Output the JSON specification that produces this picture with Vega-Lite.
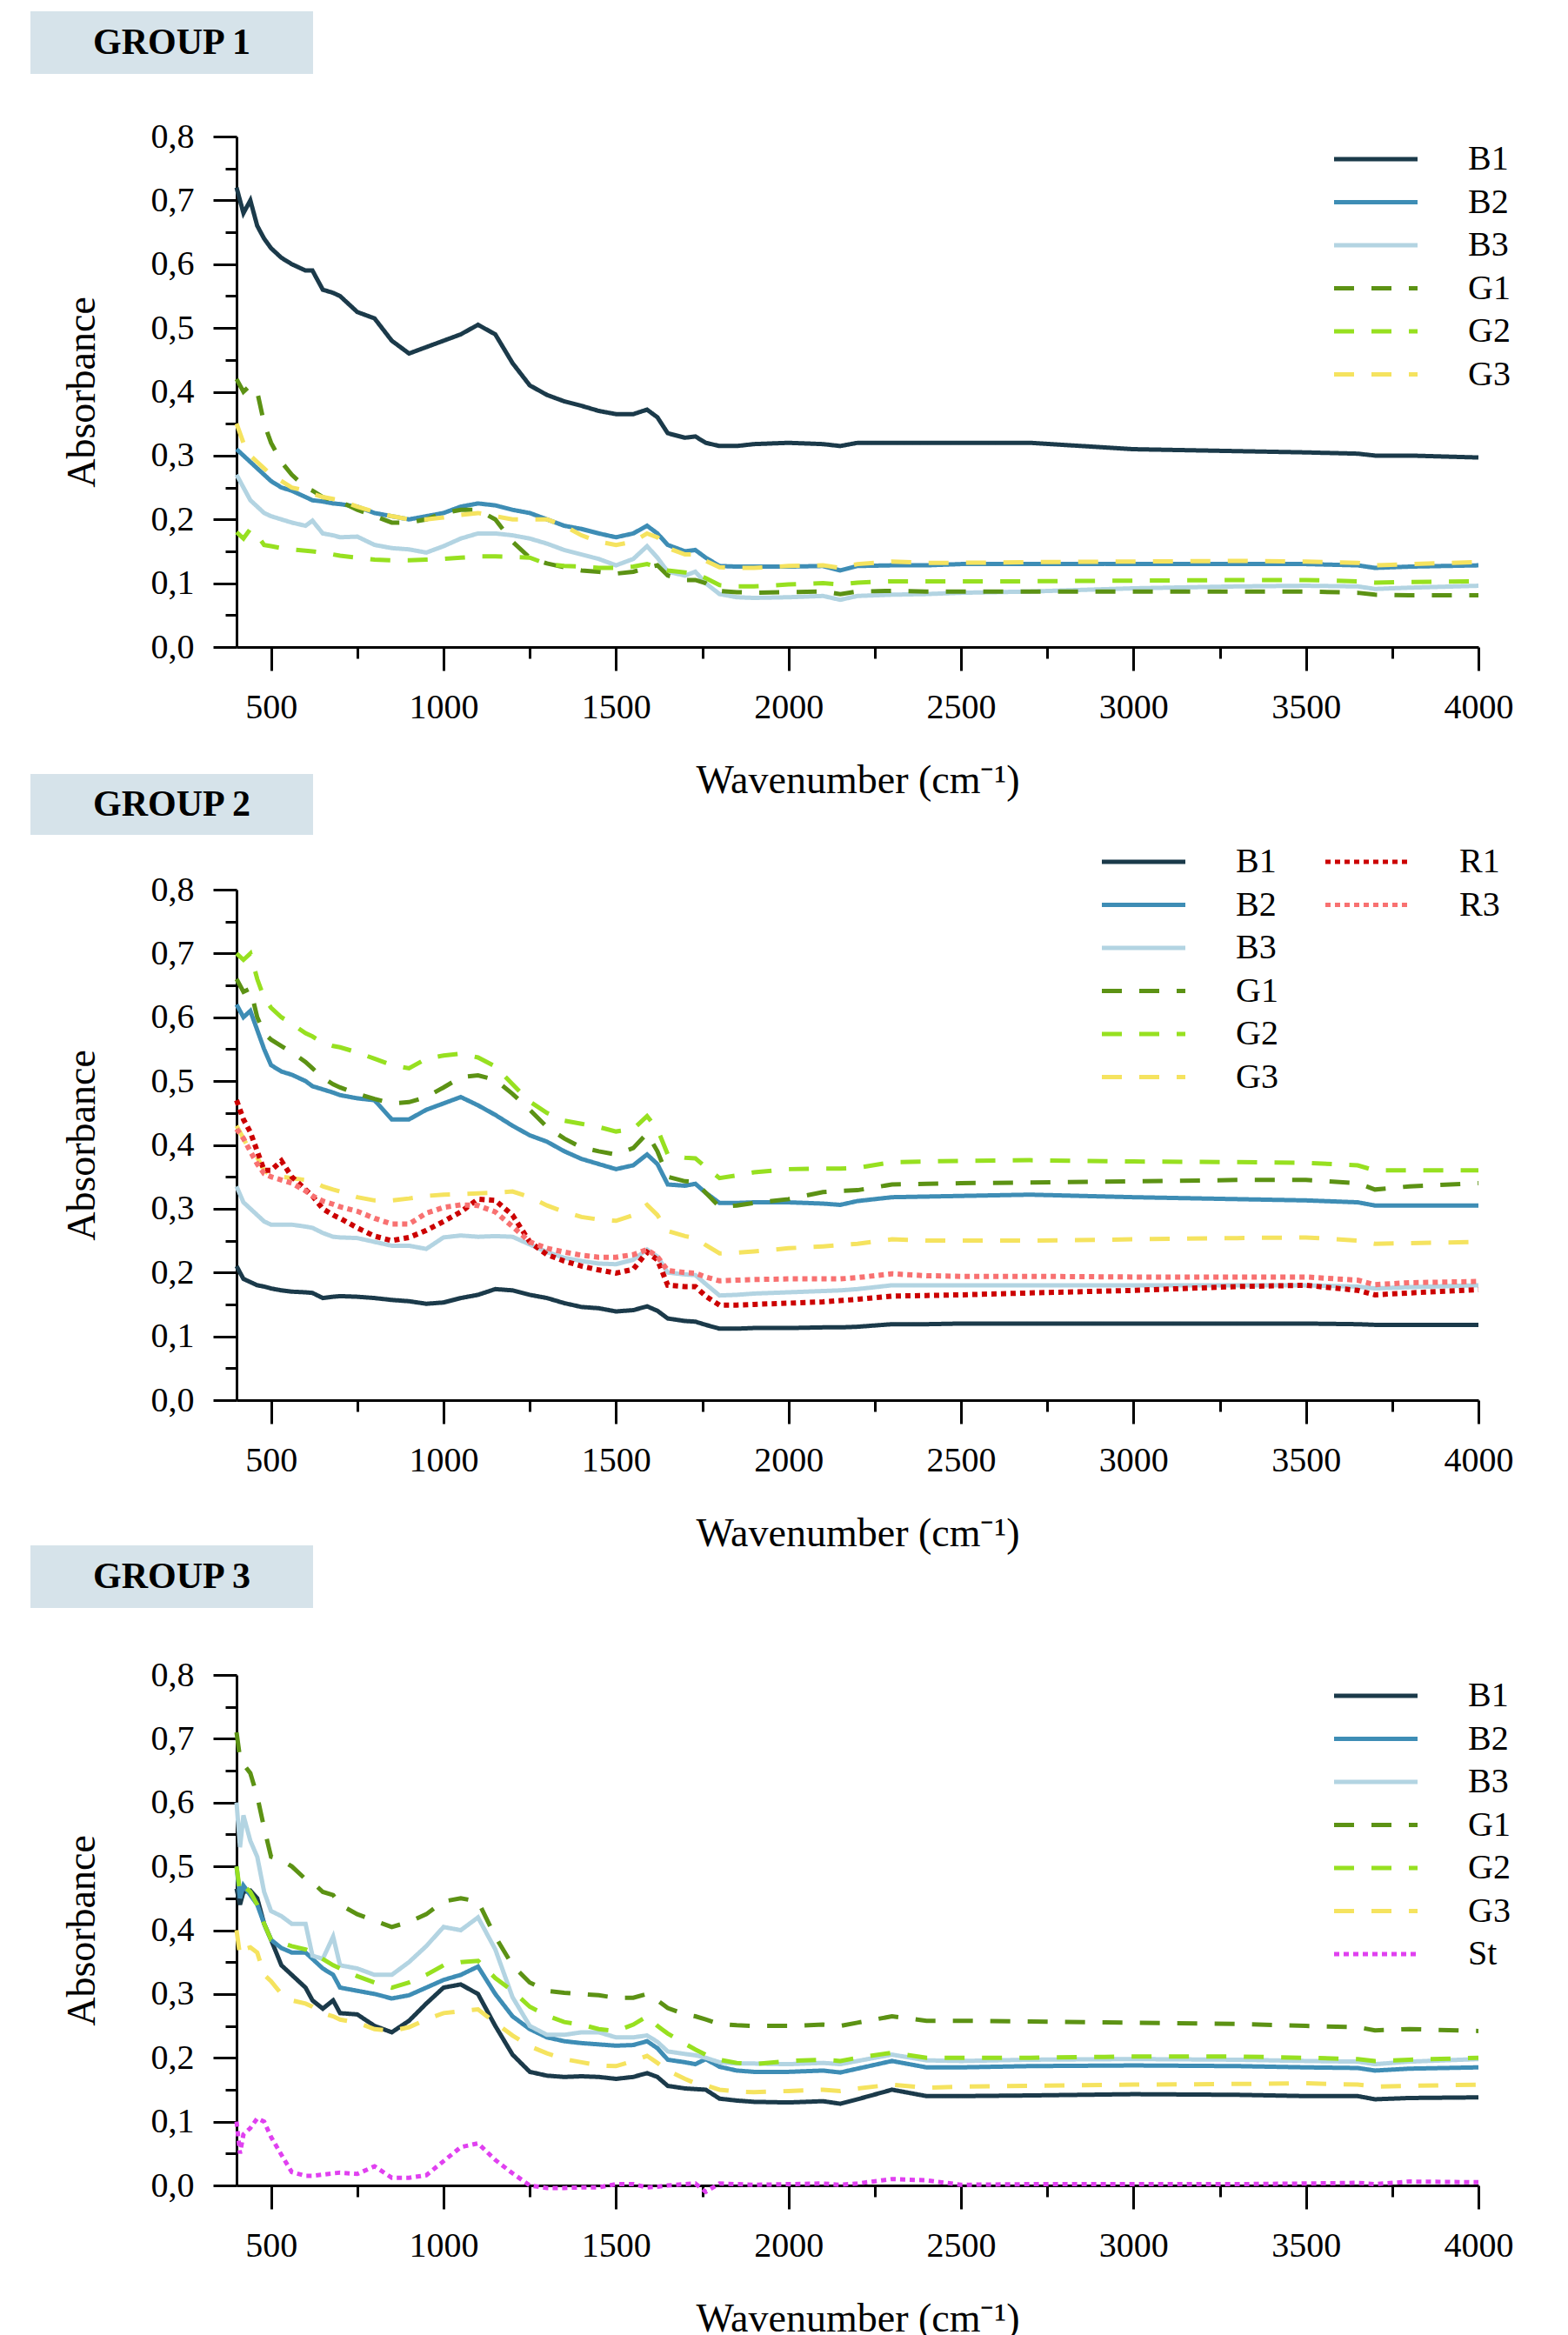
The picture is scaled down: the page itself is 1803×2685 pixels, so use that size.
{
"$schema": "https://vega.github.io/schema/vega-lite/v6.json",
"background": "white",
"padding": {"left": 35, "top": 13, "right": 0, "bottom": 0},
"config": {
  "font": "Liberation Serif",
  "view": {"stroke": null},
  "axis": {"domainColor": "black", "domainWidth": 3, "tickColor": "black", "tickWidth": 3, "labelFont": "Liberation Serif", "labelFontSize": 40, "labelColor": "black", "titleFont": "Liberation Serif", "titleFontSize": 46, "titleFontWeight": "normal", "titleColor": "black", "grid": false, "labelPadding": 22, "labelFlush": false, "labelOverlap": false},
  "legend": {"title": null, "orient": "none", "labelFontSize": 40, "labelFont": "Liberation Serif", "labelColor": "black", "symbolType": "M-4,0H4", "symbolSize": 576, "symbolStrokeWidth": 5, "labelOffset": 86, "rowPadding": 9.5, "padding": 0, "labelLimit": 0}
},
"resolve": {"scale": {"color": "independent", "strokeDash": "independent", "strokeWidth": "independent"}},
"columns": 1,
"align": "none",
"spacing": -9,
"concat": [
{
 "columns": 1,
 "align": "none",
 "spacing": -30,
 "resolve": {"scale": {"color": "independent", "strokeDash": "independent", "strokeWidth": "independent"}},
 "concat": [
 {
  "columns": 1,
  "align": "none",
  "spacing": 52,
  "resolve": {"scale": {"color": "independent", "strokeDash": "independent", "strokeWidth": "independent"}},
  "concat": [
   {"width": 325, "height": 72, "view": {"fill": "#d6e3ea", "stroke": null},
    "data": {"values": [{"label": "GROUP 1"}]},
    "mark": {"type": "text", "fontSize": 42, "fontWeight": "bold", "color": "black", "font": "Liberation Serif"},
    "encoding": {"text": {"field": "label"}}},
   {"width": 1665, "height": 587,
    "data": {"values": [
{"x":400,"B1":0.72,"B2":0.31,"B3":0.27,"G1":0.42,"G2":0.18,"G3":0.35},
{"x":420,"B1":0.68,"B2":0.30,"B3":0.25,"G1":0.40,"G2":0.17,"G3":0.32},
{"x":440,"B1":0.70,"B2":0.29,"B3":0.23,"G1":0.41,"G2":0.185,"G3":0.30},
{"x":460,"B1":0.66,"B2":0.28,"B3":0.22,"G1":0.40,"G2":0.175,"G3":0.29},
{"x":480,"B1":0.64,"B2":0.27,"B3":0.21,"G1":0.35,"G2":0.16,"G3":0.28},
{"x":500,"B1":0.625,"B2":0.26,"B3":0.205,"G1":0.32,"G2":0.158,"G3":0.27},
{"x":530,"B1":0.61,"B2":0.25,"B3":0.20,"G1":0.29,"G2":0.155,"G3":0.26},
{"x":560,"B1":0.60,"B2":0.245,"B3":0.195,"G1":0.27,"G2":0.153,"G3":0.25},
{"x":600,"B1":0.59,"B2":0.235,"B3":0.19,"G1":0.25,"G2":0.151,"G3":0.245},
{"x":620,"B1":0.59,"B2":0.23,"B3":0.198,"G1":0.245,"G2":0.15,"G3":0.24},
{"x":650,"B1":0.56,"B2":0.228,"B3":0.178,"G1":0.235,"G2":0.148,"G3":0.235},
{"x":680,"B1":0.555,"B2":0.225,"B3":0.175,"G1":0.23,"G2":0.145,"G3":0.232},
{"x":700,"B1":0.55,"B2":0.224,"B3":0.172,"G1":0.228,"G2":0.143,"G3":0.23},
{"x":750,"B1":0.525,"B2":0.22,"B3":0.173,"G1":0.215,"G2":0.14,"G3":0.22},
{"x":800,"B1":0.515,"B2":0.21,"B3":0.16,"G1":0.205,"G2":0.137,"G3":0.212},
{"x":850,"B1":0.48,"B2":0.205,"B3":0.155,"G1":0.195,"G2":0.136,"G3":0.205},
{"x":900,"B1":0.46,"B2":0.2,"B3":0.153,"G1":0.195,"G2":0.136,"G3":0.2},
{"x":950,"B1":0.47,"B2":0.205,"B3":0.148,"G1":0.2,"G2":0.137,"G3":0.2},
{"x":1000,"B1":0.48,"B2":0.21,"B3":0.158,"G1":0.21,"G2":0.138,"G3":0.203},
{"x":1050,"B1":0.49,"B2":0.22,"B3":0.17,"G1":0.215,"G2":0.14,"G3":0.207},
{"x":1100,"B1":0.505,"B2":0.225,"B3":0.178,"G1":0.215,"G2":0.142,"G3":0.21},
{"x":1150,"B1":0.49,"B2":0.222,"B3":0.178,"G1":0.2,"G2":0.142,"G3":0.205},
{"x":1200,"B1":0.445,"B2":0.215,"B3":0.175,"G1":0.165,"G2":0.141,"G3":0.2},
{"x":1250,"B1":0.41,"B2":0.21,"B3":0.17,"G1":0.14,"G2":0.14,"G3":0.2},
{"x":1300,"B1":0.395,"B2":0.2,"B3":0.162,"G1":0.131,"G2":0.13,"G3":0.2},
{"x":1350,"B1":0.385,"B2":0.19,"B3":0.152,"G1":0.125,"G2":0.127,"G3":0.19},
{"x":1400,"B1":0.378,"B2":0.185,"B3":0.145,"G1":0.12,"G2":0.126,"G3":0.175},
{"x":1450,"B1":0.37,"B2":0.178,"B3":0.138,"G1":0.118,"G2":0.124,"G3":0.165},
{"x":1500,"B1":0.365,"B2":0.172,"B3":0.128,"G1":0.115,"G2":0.124,"G3":0.16},
{"x":1550,"B1":0.365,"B2":0.178,"B3":0.138,"G1":0.118,"G2":0.126,"G3":0.165},
{"x":1590,"B1":0.372,"B2":0.19,"B3":0.158,"G1":0.124,"G2":0.13,"G3":0.178},
{"x":1620,"B1":0.36,"B2":0.178,"B3":0.14,"G1":0.128,"G2":0.125,"G3":0.172},
{"x":1650,"B1":0.335,"B2":0.16,"B3":0.118,"G1":0.112,"G2":0.12,"G3":0.155},
{"x":1700,"B1":0.328,"B2":0.15,"B3":0.112,"G1":0.105,"G2":0.117,"G3":0.145},
{"x":1730,"B1":0.33,"B2":0.152,"B3":0.118,"G1":0.105,"G2":0.115,"G3":0.145},
{"x":1760,"B1":0.32,"B2":0.14,"B3":0.1,"G1":0.1,"G2":0.108,"G3":0.135},
{"x":1800,"B1":0.315,"B2":0.127,"B3":0.083,"G1":0.088,"G2":0.097,"G3":0.125},
{"x":1850,"B1":0.315,"B2":0.126,"B3":0.078,"G1":0.086,"G2":0.095,"G3":0.124},
{"x":1900,"B1":0.318,"B2":0.126,"B3":0.077,"G1":0.085,"G2":0.095,"G3":0.124},
{"x":2000,"B1":0.32,"B2":0.126,"B3":0.078,"G1":0.086,"G2":0.098,"G3":0.127},
{"x":2100,"B1":0.318,"B2":0.127,"B3":0.08,"G1":0.087,"G2":0.1,"G3":0.128},
{"x":2150,"B1":0.315,"B2":0.12,"B3":0.074,"G1":0.083,"G2":0.098,"G3":0.124},
{"x":2200,"B1":0.32,"B2":0.127,"B3":0.08,"G1":0.087,"G2":0.101,"G3":0.13},
{"x":2300,"B1":0.32,"B2":0.128,"B3":0.082,"G1":0.088,"G2":0.103,"G3":0.134},
{"x":2400,"B1":0.32,"B2":0.128,"B3":0.083,"G1":0.087,"G2":0.103,"G3":0.132},
{"x":2500,"B1":0.32,"B2":0.13,"B3":0.085,"G1":0.087,"G2":0.103,"G3":0.132},
{"x":2700,"B1":0.32,"B2":0.13,"B3":0.087,"G1":0.087,"G2":0.103,"G3":0.133},
{"x":3000,"B1":0.31,"B2":0.13,"B3":0.092,"G1":0.087,"G2":0.104,"G3":0.134},
{"x":3300,"B1":0.307,"B2":0.13,"B3":0.095,"G1":0.087,"G2":0.105,"G3":0.135},
{"x":3500,"B1":0.305,"B2":0.13,"B3":0.096,"G1":0.087,"G2":0.105,"G3":0.134},
{"x":3650,"B1":0.303,"B2":0.128,"B3":0.095,"G1":0.085,"G2":0.103,"G3":0.132},
{"x":3700,"B1":0.3,"B2":0.124,"B3":0.091,"G1":0.082,"G2":0.101,"G3":0.128},
{"x":3800,"B1":0.3,"B2":0.126,"B3":0.093,"G1":0.081,"G2":0.102,"G3":0.13},
{"x":4000,"B1":0.297,"B2":0.128,"B3":0.096,"G1":0.081,"G2":0.103,"G3":0.133}
    ]},
    "transform": [{"fold": ["B1","B2","B3","G1","G2","G3"], "as": ["s","v"]}],
    "mark": {"type": "line"},
    "encoding": {
     "x": {"field": "x", "type": "quantitative", "scale": {"domain": [400, 4000], "range": [237, 1665], "nice": false, "zero": false},
       "axis": {"values": [500,750,1000,1250,1500,1750,2000,2250,2500,2750,3000,3250,3500,3750,4000], "format": "d", "labelExpr": "datum.value % 500 == 0 ? datum.label : ''", "tickSize": {"condition": {"test": "datum.value % 500 == 0", "value": 27}, "value": 13}, "title": "Wavenumber (cm⁻¹)", "titlePadding": 42}},
     "y": {"field": "v", "type": "quantitative", "scale": {"domain": [0, 0.8], "nice": false},
       "axis": {"offset": -237, "values": [0,0.05,0.1,0.15,0.2,0.25,0.3,0.35,0.4,0.45,0.5,0.55,0.6,0.65,0.7,0.75,0.8], "labelExpr": "abs(datum.value*10 - round(datum.value*10)) < 0.001 ? replace(format(datum.value, '.1f'), '.', ',') : ''", "tickSize": {"condition": {"test": "abs(datum.value*10 - round(datum.value*10)) < 0.001", "value": 27}, "value": 13}, "title": "Absorbance", "titlePadding": 55}},
     "color": {"field": "s", "type": "nominal", "scale": {"domain": ["B1","B2","B3","G1","G2","G3"], "range": ["#1b3a4a","#3e8db5","#b3d4e2","#5c9214","#97e020","#f5e35f"]}, "legend": {"legendX": 1527, "legendY": 6}},
     "strokeDash": {"field": "s", "type": "nominal", "scale": {"domain": ["B1","B2","B3","G1","G2","G3"], "range": [[1,0],[1,0],[1,0],[23,20],[23,20],[23,20]]}, "legend": {"legendX": 1527, "legendY": 6}},
     "strokeWidth": {"field": "s", "type": "ordinal", "scale": {"domain": ["B1","B2","B3","G1","G2","G3"], "range": [5,5,5,6.5,6.5,6.5]}, "legend": null}
    }
   }
  ]
 },
 {
  "columns": 1,
  "align": "none",
  "spacing": 11,
  "resolve": {"scale": {"color": "independent", "strokeDash": "independent", "strokeWidth": "independent"}},
  "concat": [
   {"width": 325, "height": 70, "view": {"fill": "#d6e3ea", "stroke": null},
    "data": {"values": [{"label": "GROUP 2"}]},
    "mark": {"type": "text", "fontSize": 42, "fontWeight": "bold", "color": "black", "font": "Liberation Serif"},
    "encoding": {"text": {"field": "label"}}},
   {"width": 1665, "height": 587,
    "data": {"values": [
{"x":400,"B1":0.21,"B2":0.62,"B3":0.335,"G1":0.66,"G2":0.70,"G3":0.43,"R1":0.47,"R3":0.425},
{"x":420,"B1":0.19,"B2":0.60,"B3":0.31,"G1":0.64,"G2":0.69,"G3":0.41,"R1":0.44,"R3":0.41},
{"x":440,"B1":0.185,"B2":0.61,"B3":0.30,"G1":0.645,"G2":0.70,"G3":0.39,"R1":0.42,"R3":0.39},
{"x":460,"B1":0.18,"B2":0.58,"B3":0.29,"G1":0.60,"G2":0.66,"G3":0.38,"R1":0.39,"R3":0.37},
{"x":480,"B1":0.178,"B2":0.55,"B3":0.28,"G1":0.575,"G2":0.63,"G3":0.36,"R1":0.36,"R3":0.355},
{"x":500,"B1":0.175,"B2":0.525,"B3":0.275,"G1":0.565,"G2":0.615,"G3":0.352,"R1":0.36,"R3":0.35},
{"x":530,"B1":0.172,"B2":0.515,"B3":0.275,"G1":0.555,"G2":0.60,"G3":0.35,"R1":0.375,"R3":0.345},
{"x":560,"B1":0.17,"B2":0.51,"B3":0.275,"G1":0.545,"G2":0.59,"G3":0.348,"R1":0.35,"R3":0.34},
{"x":600,"B1":0.169,"B2":0.50,"B3":0.272,"G1":0.53,"G2":0.575,"G3":0.345,"R1":0.33,"R3":0.328},
{"x":620,"B1":0.168,"B2":0.492,"B3":0.27,"G1":0.52,"G2":0.57,"G3":0.343,"R1":0.32,"R3":0.32},
{"x":650,"B1":0.16,"B2":0.487,"B3":0.262,"G1":0.505,"G2":0.56,"G3":0.335,"R1":0.30,"R3":0.312},
{"x":680,"B1":0.162,"B2":0.482,"B3":0.256,"G1":0.495,"G2":0.555,"G3":0.33,"R1":0.29,"R3":0.307},
{"x":700,"B1":0.163,"B2":0.478,"B3":0.255,"G1":0.49,"G2":0.553,"G3":0.327,"R1":0.285,"R3":0.303},
{"x":750,"B1":0.162,"B2":0.473,"B3":0.254,"G1":0.48,"G2":0.545,"G3":0.318,"R1":0.27,"R3":0.296},
{"x":800,"B1":0.16,"B2":0.47,"B3":0.248,"G1":0.472,"G2":0.535,"G3":0.313,"R1":0.257,"R3":0.285},
{"x":850,"B1":0.157,"B2":0.44,"B3":0.242,"G1":0.465,"G2":0.525,"G3":0.313,"R1":0.25,"R3":0.276},
{"x":900,"B1":0.155,"B2":0.44,"B3":0.242,"G1":0.467,"G2":0.52,"G3":0.316,"R1":0.255,"R3":0.276},
{"x":950,"B1":0.151,"B2":0.455,"B3":0.237,"G1":0.475,"G2":0.535,"G3":0.32,"R1":0.266,"R3":0.293},
{"x":1000,"B1":0.153,"B2":0.465,"B3":0.255,"G1":0.49,"G2":0.54,"G3":0.322,"R1":0.28,"R3":0.302},
{"x":1050,"B1":0.16,"B2":0.475,"B3":0.258,"G1":0.506,"G2":0.543,"G3":0.323,"R1":0.295,"R3":0.306},
{"x":1100,"B1":0.165,"B2":0.462,"B3":0.256,"G1":0.509,"G2":0.537,"G3":0.324,"R1":0.315,"R3":0.305},
{"x":1150,"B1":0.174,"B2":0.447,"B3":0.257,"G1":0.502,"G2":0.523,"G3":0.325,"R1":0.313,"R3":0.295},
{"x":1200,"B1":0.172,"B2":0.43,"B3":0.256,"G1":0.48,"G2":0.495,"G3":0.327,"R1":0.29,"R3":0.272},
{"x":1250,"B1":0.165,"B2":0.415,"B3":0.244,"G1":0.455,"G2":0.468,"G3":0.318,"R1":0.248,"R3":0.248},
{"x":1300,"B1":0.16,"B2":0.405,"B3":0.232,"G1":0.428,"G2":0.45,"G3":0.305,"R1":0.228,"R3":0.238},
{"x":1350,"B1":0.152,"B2":0.39,"B3":0.223,"G1":0.41,"G2":0.438,"G3":0.295,"R1":0.218,"R3":0.232},
{"x":1400,"B1":0.146,"B2":0.378,"B3":0.218,"G1":0.396,"G2":0.433,"G3":0.287,"R1":0.21,"R3":0.227},
{"x":1450,"B1":0.144,"B2":0.37,"B3":0.214,"G1":0.39,"G2":0.428,"G3":0.283,"R1":0.204,"R3":0.224},
{"x":1500,"B1":0.139,"B2":0.362,"B3":0.213,"G1":0.385,"G2":0.421,"G3":0.281,"R1":0.199,"R3":0.224},
{"x":1550,"B1":0.141,"B2":0.368,"B3":0.22,"G1":0.395,"G2":0.425,"G3":0.29,"R1":0.205,"R3":0.228},
{"x":1590,"B1":0.147,"B2":0.385,"B3":0.236,"G1":0.418,"G2":0.445,"G3":0.306,"R1":0.232,"R3":0.236},
{"x":1620,"B1":0.14,"B2":0.37,"B3":0.225,"G1":0.39,"G2":0.425,"G3":0.29,"R1":0.22,"R3":0.225},
{"x":1650,"B1":0.128,"B2":0.338,"B3":0.2,"G1":0.35,"G2":0.385,"G3":0.265,"R1":0.18,"R3":0.203},
{"x":1700,"B1":0.124,"B2":0.336,"B3":0.197,"G1":0.343,"G2":0.38,"G3":0.257,"R1":0.178,"R3":0.2},
{"x":1730,"B1":0.123,"B2":0.339,"B3":0.196,"G1":0.342,"G2":0.379,"G3":0.254,"R1":0.178,"R3":0.199},
{"x":1760,"B1":0.118,"B2":0.325,"B3":0.182,"G1":0.325,"G2":0.365,"G3":0.243,"R1":0.163,"R3":0.193},
{"x":1800,"B1":0.112,"B2":0.309,"B3":0.164,"G1":0.303,"G2":0.348,"G3":0.23,"R1":0.149,"R3":0.187},
{"x":1850,"B1":0.112,"B2":0.309,"B3":0.165,"G1":0.305,"G2":0.352,"G3":0.231,"R1":0.149,"R3":0.188},
{"x":1900,"B1":0.113,"B2":0.31,"B3":0.167,"G1":0.309,"G2":0.357,"G3":0.233,"R1":0.15,"R3":0.189},
{"x":2000,"B1":0.113,"B2":0.31,"B3":0.169,"G1":0.315,"G2":0.362,"G3":0.238,"R1":0.152,"R3":0.19},
{"x":2100,"B1":0.114,"B2":0.308,"B3":0.171,"G1":0.326,"G2":0.363,"G3":0.241,"R1":0.154,"R3":0.19},
{"x":2150,"B1":0.114,"B2":0.306,"B3":0.172,"G1":0.328,"G2":0.363,"G3":0.243,"R1":0.156,"R3":0.19},
{"x":2200,"B1":0.115,"B2":0.312,"B3":0.174,"G1":0.329,"G2":0.364,"G3":0.245,"R1":0.158,"R3":0.192},
{"x":2300,"B1":0.119,"B2":0.318,"B3":0.18,"G1":0.338,"G2":0.373,"G3":0.252,"R1":0.163,"R3":0.198},
{"x":2400,"B1":0.119,"B2":0.319,"B3":0.18,"G1":0.339,"G2":0.374,"G3":0.25,"R1":0.164,"R3":0.195},
{"x":2500,"B1":0.12,"B2":0.32,"B3":0.18,"G1":0.34,"G2":0.375,"G3":0.25,"R1":0.165,"R3":0.194},
{"x":2700,"B1":0.12,"B2":0.322,"B3":0.18,"G1":0.341,"G2":0.376,"G3":0.25,"R1":0.168,"R3":0.194},
{"x":3000,"B1":0.12,"B2":0.318,"B3":0.18,"G1":0.343,"G2":0.374,"G3":0.252,"R1":0.172,"R3":0.193},
{"x":3300,"B1":0.12,"B2":0.315,"B3":0.18,"G1":0.345,"G2":0.373,"G3":0.254,"R1":0.178,"R3":0.193},
{"x":3500,"B1":0.12,"B2":0.313,"B3":0.18,"G1":0.345,"G2":0.372,"G3":0.255,"R1":0.18,"R3":0.193},
{"x":3650,"B1":0.119,"B2":0.31,"B3":0.178,"G1":0.34,"G2":0.368,"G3":0.25,"R1":0.172,"R3":0.188},
{"x":3700,"B1":0.118,"B2":0.305,"B3":0.175,"G1":0.33,"G2":0.36,"G3":0.245,"R1":0.165,"R3":0.181},
{"x":3800,"B1":0.118,"B2":0.305,"B3":0.177,"G1":0.335,"G2":0.36,"G3":0.246,"R1":0.168,"R3":0.184},
{"x":4000,"B1":0.118,"B2":0.305,"B3":0.18,"G1":0.34,"G2":0.36,"G3":0.248,"R1":0.173,"R3":0.186}
    ]},
    "encoding": {
     "x": {"field": "x", "type": "quantitative", "scale": {"domain": [400, 4000], "range": [237, 1665], "nice": false, "zero": false},
       "axis": {"values": [500,750,1000,1250,1500,1750,2000,2250,2500,2750,3000,3250,3500,3750,4000], "format": "d", "labelExpr": "datum.value % 500 == 0 ? datum.label : ''", "tickSize": {"condition": {"test": "datum.value % 500 == 0", "value": 27}, "value": 13}, "title": "Wavenumber (cm⁻¹)", "titlePadding": 42}},
     "y": {"field": "v", "type": "quantitative", "scale": {"domain": [0, 0.8], "nice": false},
       "axis": {"offset": -237, "values": [0,0.05,0.1,0.15,0.2,0.25,0.3,0.35,0.4,0.45,0.5,0.55,0.6,0.65,0.7,0.75,0.8], "labelExpr": "abs(datum.value*10 - round(datum.value*10)) < 0.001 ? replace(format(datum.value, '.1f'), '.', ',') : ''", "tickSize": {"condition": {"test": "abs(datum.value*10 - round(datum.value*10)) < 0.001", "value": 27}, "value": 13}, "title": "Absorbance", "titlePadding": 55}}
    },
    "resolve": {"scale": {"color": "independent", "strokeDash": "independent", "strokeWidth": "independent"}},
    "layer": [
     {"transform": [{"fold": ["B1","B2","B3","G1","G2","G3"], "as": ["s","v"]}],
      "mark": {"type": "line"},
      "encoding": {
       "color": {"field": "s", "type": "nominal", "scale": {"domain": ["B1","B2","B3","G1","G2","G3"], "range": ["#1b3a4a","#3e8db5","#b3d4e2","#5c9214","#97e020","#f5e35f"]}, "legend": {"legendX": 1260, "legendY": -52}},
       "strokeDash": {"field": "s", "type": "nominal", "scale": {"domain": ["B1","B2","B3","G1","G2","G3"], "range": [[1,0],[1,0],[1,0],[23,20],[23,20],[23,20]]}, "legend": {"legendX": 1260, "legendY": -52}},
       "strokeWidth": {"field": "s", "type": "ordinal", "scale": {"domain": ["B1","B2","B3","G1","G2","G3"], "range": [5,5,5,6.5,6.5,6.5]}, "legend": null}
      }},
     {"transform": [{"fold": ["R1","R3"], "as": ["s","v"]}],
      "mark": {"type": "line", "strokeWidth": 6},
      "encoding": {
       "color": {"field": "s", "type": "nominal", "scale": {"domain": ["R1","R3"], "range": ["#cc0000","#f87171"]}, "legend": {"legendX": 1517, "legendY": -52}},
       "strokeDash": {"field": "s", "type": "nominal", "scale": {"domain": ["R1","R3"], "range": [[6,5],[6,5]]}, "legend": {"legendX": 1517, "legendY": -52}}
      }}
    ]
   }
  ]
 }
 ]
},
{
 "columns": 1,
 "align": "none",
 "spacing": 57,
 "resolve": {"scale": {"color": "independent", "strokeDash": "independent", "strokeWidth": "independent"}},
 "concat": [
  {"width": 325, "height": 72, "view": {"fill": "#d6e3ea", "stroke": null},
   "data": {"values": [{"label": "GROUP 3"}]},
   "mark": {"type": "text", "fontSize": 42, "fontWeight": "bold", "color": "black", "font": "Liberation Serif"},
   "encoding": {"text": {"field": "label"}}},
  {"width": 1665, "height": 587,
   "data": {"values": [
{"x":400,"B1":0.465,"B2":0.50,"B3":0.60,"G1":0.71,"G2":0.50,"G3":0.40,"St":0.10},
{"x":410,"B1":0.44,"B2":0.45,"B3":0.53,"G1":0.67,"G2":0.46,"G3":0.36,"St":0.05},
{"x":420,"B1":0.46,"B2":0.47,"B3":0.58,"G1":0.66,"G2":0.47,"G3":0.37,"St":0.08},
{"x":440,"B1":0.462,"B2":0.455,"B3":0.54,"G1":0.646,"G2":0.46,"G3":0.373,"St":0.09},
{"x":460,"B1":0.45,"B2":0.44,"B3":0.515,"G1":0.61,"G2":0.44,"G3":0.365,"St":0.105},
{"x":480,"B1":0.41,"B2":0.41,"B3":0.46,"G1":0.56,"G2":0.41,"G3":0.33,"St":0.1},
{"x":500,"B1":0.385,"B2":0.385,"B3":0.43,"G1":0.515,"G2":0.385,"G3":0.32,"St":0.076},
{"x":530,"B1":0.345,"B2":0.372,"B3":0.422,"G1":0.51,"G2":0.38,"G3":0.3,"St":0.048},
{"x":560,"B1":0.33,"B2":0.365,"B3":0.41,"G1":0.50,"G2":0.375,"G3":0.29,"St":0.021},
{"x":600,"B1":0.31,"B2":0.365,"B3":0.41,"G1":0.48,"G2":0.37,"G3":0.285,"St":0.015},
{"x":620,"B1":0.29,"B2":0.355,"B3":0.36,"G1":0.475,"G2":0.365,"G3":0.28,"St":0.015},
{"x":650,"B1":0.277,"B2":0.34,"B3":0.355,"G1":0.46,"G2":0.355,"G3":0.27,"St":0.017},
{"x":680,"B1":0.29,"B2":0.33,"B3":0.39,"G1":0.455,"G2":0.345,"G3":0.265,"St":0.019},
{"x":700,"B1":0.27,"B2":0.31,"B3":0.345,"G1":0.44,"G2":0.34,"G3":0.26,"St":0.02},
{"x":750,"B1":0.268,"B2":0.305,"B3":0.34,"G1":0.425,"G2":0.328,"G3":0.255,"St":0.018},
{"x":800,"B1":0.25,"B2":0.3,"B3":0.33,"G1":0.415,"G2":0.318,"G3":0.245,"St":0.03},
{"x":850,"B1":0.24,"B2":0.293,"B3":0.33,"G1":0.405,"G2":0.31,"G3":0.242,"St":0.012},
{"x":900,"B1":0.258,"B2":0.298,"B3":0.35,"G1":0.413,"G2":0.318,"G3":0.248,"St":0.012},
{"x":950,"B1":0.285,"B2":0.31,"B3":0.375,"G1":0.425,"G2":0.33,"G3":0.26,"St":0.016},
{"x":1000,"B1":0.31,"B2":0.322,"B3":0.405,"G1":0.445,"G2":0.345,"G3":0.27,"St":0.038},
{"x":1050,"B1":0.315,"B2":0.33,"B3":0.4,"G1":0.45,"G2":0.35,"G3":0.273,"St":0.06},
{"x":1100,"B1":0.3,"B2":0.343,"B3":0.42,"G1":0.445,"G2":0.352,"G3":0.276,"St":0.066},
{"x":1150,"B1":0.25,"B2":0.3,"B3":0.37,"G1":0.39,"G2":0.325,"G3":0.255,"St":0.04},
{"x":1200,"B1":0.205,"B2":0.265,"B3":0.295,"G1":0.345,"G2":0.305,"G3":0.235,"St":0.019},
{"x":1250,"B1":0.178,"B2":0.245,"B3":0.25,"G1":0.318,"G2":0.28,"G3":0.218,"St":0.0},
{"x":1300,"B1":0.172,"B2":0.232,"B3":0.236,"G1":0.305,"G2":0.266,"G3":0.207,"St":-0.004},
{"x":1350,"B1":0.17,"B2":0.226,"B3":0.236,"G1":0.302,"G2":0.256,"G3":0.198,"St":-0.004},
{"x":1400,"B1":0.171,"B2":0.223,"B3":0.24,"G1":0.3,"G2":0.252,"G3":0.193,"St":-0.003},
{"x":1450,"B1":0.17,"B2":0.221,"B3":0.24,"G1":0.298,"G2":0.245,"G3":0.188,"St":-0.003},
{"x":1500,"B1":0.167,"B2":0.219,"B3":0.232,"G1":0.294,"G2":0.242,"G3":0.187,"St":0.002},
{"x":1550,"B1":0.17,"B2":0.22,"B3":0.232,"G1":0.294,"G2":0.252,"G3":0.195,"St":0.002},
{"x":1590,"B1":0.176,"B2":0.226,"B3":0.235,"G1":0.3,"G2":0.265,"G3":0.203,"St":-0.003},
{"x":1620,"B1":0.17,"B2":0.215,"B3":0.225,"G1":0.29,"G2":0.25,"G3":0.192,"St":-0.002},
{"x":1650,"B1":0.156,"B2":0.197,"B3":0.21,"G1":0.278,"G2":0.238,"G3":0.18,"St":0},
{"x":1700,"B1":0.152,"B2":0.193,"B3":0.206,"G1":0.268,"G2":0.222,"G3":0.167,"St":0.002},
{"x":1730,"B1":0.151,"B2":0.19,"B3":0.204,"G1":0.265,"G2":0.213,"G3":0.16,"St":0.003},
{"x":1760,"B1":0.15,"B2":0.198,"B3":0.2,"G1":0.26,"G2":0.205,"G3":0.157,"St":-0.01},
{"x":1800,"B1":0.136,"B2":0.186,"B3":0.193,"G1":0.253,"G2":0.197,"G3":0.15,"St":0.003},
{"x":1850,"B1":0.133,"B2":0.18,"B3":0.191,"G1":0.251,"G2":0.192,"G3":0.147,"St":0.002},
{"x":1900,"B1":0.131,"B2":0.178,"B3":0.191,"G1":0.25,"G2":0.19,"G3":0.146,"St":0.001},
{"x":2000,"B1":0.13,"B2":0.178,"B3":0.19,"G1":0.25,"G2":0.195,"G3":0.148,"St":0.002},
{"x":2100,"B1":0.132,"B2":0.18,"B3":0.192,"G1":0.252,"G2":0.197,"G3":0.15,"St":0.003},
{"x":2150,"B1":0.128,"B2":0.177,"B3":0.19,"G1":0.25,"G2":0.195,"G3":0.148,"St":0.001},
{"x":2200,"B1":0.135,"B2":0.183,"B3":0.195,"G1":0.255,"G2":0.2,"G3":0.152,"St":0.003},
{"x":2300,"B1":0.15,"B2":0.195,"B3":0.205,"G1":0.265,"G2":0.208,"G3":0.158,"St":0.01},
{"x":2400,"B1":0.14,"B2":0.185,"B3":0.196,"G1":0.258,"G2":0.2,"G3":0.153,"St":0.008},
{"x":2500,"B1":0.14,"B2":0.185,"B3":0.195,"G1":0.258,"G2":0.2,"G3":0.155,"St":0.001},
{"x":2700,"B1":0.141,"B2":0.187,"B3":0.197,"G1":0.257,"G2":0.2,"G3":0.156,"St":0.002},
{"x":3000,"B1":0.143,"B2":0.188,"B3":0.198,"G1":0.255,"G2":0.202,"G3":0.158,"St":0.002},
{"x":3300,"B1":0.142,"B2":0.187,"B3":0.197,"G1":0.253,"G2":0.202,"G3":0.159,"St":0.002},
{"x":3500,"B1":0.14,"B2":0.185,"B3":0.195,"G1":0.25,"G2":0.2,"G3":0.16,"St":0.003},
{"x":3650,"B1":0.14,"B2":0.184,"B3":0.194,"G1":0.248,"G2":0.198,"G3":0.158,"St":0.004},
{"x":3700,"B1":0.135,"B2":0.18,"B3":0.19,"G1":0.243,"G2":0.195,"G3":0.155,"St":0.002},
{"x":3800,"B1":0.137,"B2":0.183,"B3":0.194,"G1":0.245,"G2":0.197,"G3":0.156,"St":0.006},
{"x":4000,"B1":0.138,"B2":0.185,"B3":0.198,"G1":0.242,"G2":0.2,"G3":0.158,"St":0.005}
   ]},
   "transform": [{"fold": ["B1","B2","B3","G1","G2","G3","St"], "as": ["s","v"]}],
   "mark": {"type": "line"},
   "encoding": {
    "x": {"field": "x", "type": "quantitative", "scale": {"domain": [400, 4000], "range": [237, 1665], "nice": false, "zero": false},
      "axis": {"values": [500,750,1000,1250,1500,1750,2000,2250,2500,2750,3000,3250,3500,3750,4000], "format": "d", "labelExpr": "datum.value % 500 == 0 ? datum.label : ''", "tickSize": {"condition": {"test": "datum.value % 500 == 0", "value": 27}, "value": 13}, "title": "Wavenumber (cm⁻¹)", "titlePadding": 42}},
    "y": {"field": "v", "type": "quantitative", "scale": {"domain": [0, 0.8], "nice": false},
      "axis": {"offset": -237, "values": [0,0.05,0.1,0.15,0.2,0.25,0.3,0.35,0.4,0.45,0.5,0.55,0.6,0.65,0.7,0.75,0.8], "labelExpr": "abs(datum.value*10 - round(datum.value*10)) < 0.001 ? replace(format(datum.value, '.1f'), '.', ',') : ''", "tickSize": {"condition": {"test": "abs(datum.value*10 - round(datum.value*10)) < 0.001", "value": 27}, "value": 13}, "title": "Absorbance", "titlePadding": 55}},
    "color": {"field": "s", "type": "nominal", "scale": {"domain": ["B1","B2","B3","G1","G2","G3","St"], "range": ["#1b3a4a","#3e8db5","#b3d4e2","#5c9214","#97e020","#f5e35f","#e040f0"]}, "legend": {"legendX": 1527, "legendY": 4}},
    "strokeDash": {"field": "s", "type": "nominal", "scale": {"domain": ["B1","B2","B3","G1","G2","G3","St"], "range": [[1,0],[1,0],[1,0],[23,20],[23,20],[23,20],[6,5]]}, "legend": {"legendX": 1527, "legendY": 4}},
    "strokeWidth": {"field": "s", "type": "ordinal", "scale": {"domain": ["B1","B2","B3","G1","G2","G3","St"], "range": [5,5,5,6.5,6.5,6.5,6]}, "legend": null}
   }
  }
 ]
}
]
}
